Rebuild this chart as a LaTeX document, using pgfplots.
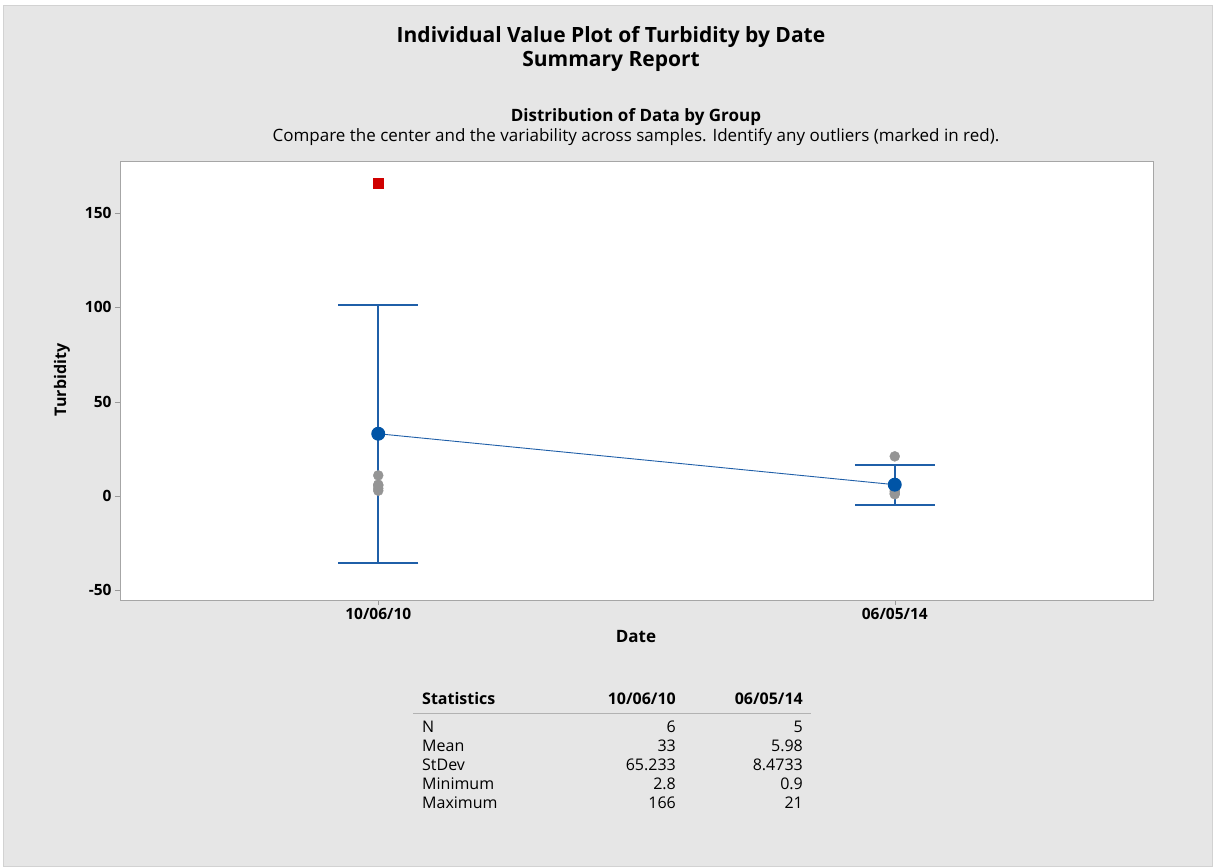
\documentclass[border=0pt]{standalone}
\usepackage{pgfplots}
\pgfplotsset{compat=1.18}
\usepackage{fontspec}
\setmainfont{Open Sans}
\definecolor{bg}{HTML}{E6E6E6}
\definecolor{barblue}{HTML}{1F5FA8}
\definecolor{meanblue}{HTML}{0054A6}
\definecolor{dotgray}{HTML}{959595}
\definecolor{outred}{HTML}{D00000}

% individual values (x: 0 = 10/06/10, 1 = 06/05/14)
\pgfplotstableread{
x y
0 2.8
0 4.0
0 5.5
0 6.0
0 10.9
1 0.9
1 1.5
1 2.5
1 4.0
1 21
}\points
% group means with 95% CI half widths
\pgfplotstableread{
x mean ci
0 33 68.46
1 5.98 10.52
}\means

\begin{document}
\begin{tikzpicture}[x=1pt,y=1pt]
% everything outside the axis is placed in image coordinates, shifted so the axis corner is the origin
\begin{scope}[shift={(-120pt,-265pt)}]
\fill[white] (0,0) rectangle (1215,865);
\filldraw[fill=bg,draw=gray!35] (3,-1) rectangle (1212,860);
\end{scope}

\begin{axis}[
    at={(0,0)}, anchor=south west,
    width=1033pt, height=439pt, scale only axis,
    xmin=-0.5, xmax=1.5, ymin=-55.2, ymax=177.7,
    xtick={0,1}, xticklabels={10/06/10,06/05/14},
    ytick={-50,0,...,150},
    tick align=outside, major tick length=5pt,
    xtick pos=bottom, ytick pos=left,
    tick style={gray!80},
    axis line style={draw=gray!70},
    axis background/.style={fill=white},
    ticklabel style={font=\fontsize{15.5}{18}\selectfont\bfseries},
    /pgf/number format/assume math mode=true,
    clip=false,
]
% confidence intervals
\addplot[draw=none, mark=none,
    error bars/.cd, y dir=both, y explicit,
    error bar style={line width=2pt, barblue},
    error mark options={rotate=90, mark size=40pt, line width=2pt, barblue}]
    table[x=x, y=mean, y error=ci] {\means};
% individual values
\addplot[only marks, mark=*, mark size=5pt, dotgray, draw=none]
    table[x=x, y=y] {\points};
% outlier
\addplot[only marks, mark=square*, mark size=5pt, outred]
    coordinates {(0,166)};
% means
\addplot[barblue, line width=0.9pt, mark=*, mark size=6.5pt,
    mark options={fill=meanblue, draw=meanblue}]
    table[x=x, y=mean] {\means};
\end{axis}

\begin{scope}[shift={(-120pt,-265pt)}]
% titles
\node[font=\fontsize{21}{24}\selectfont\bfseries] at (611,828) {Individual Value Plot of Turbidity by Date};
\node[font=\fontsize{21}{24}\selectfont\bfseries] at (611,804) {Summary Report};
\node[font=\fontsize{17}{20}\selectfont\bfseries] at (636,748) {Distribution of Data by Group};
\node[font=\fontsize{17}{20}\selectfont] at (636,728) {Compare the center and the variability across samples. Identify any outliers (marked in red).};
\node[font=\fontsize{17}{20}\selectfont\bfseries] at (636,228) {Date};
\node[font=\fontsize{16}{19}\selectfont\bfseries, rotate=90] at (62,485) {Turbidity};

% statistics table
\begin{scope}[every node/.style={font=\fontsize{16}{19}\selectfont, inner sep=0pt}]
\node[anchor=west, font=\fontsize{16}{19}\selectfont\bfseries] at (422,166) {Statistics};
\node[anchor=east, font=\fontsize{16}{19}\selectfont\bfseries] at (676,166) {10/06/10};
\node[anchor=east, font=\fontsize{16}{19}\selectfont\bfseries] at (803,166) {06/05/14};
\draw[gray!60, line width=1pt] (413,151) -- (811,151);
\foreach \lab/\a/\b [count=\i] in {N/6/5, Mean/33/5.98, StDev/65.233/8.4733, Minimum/2.8/0.9, Maximum/166/21} {
  \pgfmathsetmacro{\yy}{157-19*\i}
  \node[anchor=west] at (422,\yy) {\lab};
  \node[anchor=east] at (676,\yy) {\a};
  \node[anchor=east] at (803,\yy) {\b};
}
\end{scope}
\end{scope}
\end{tikzpicture}
\end{document}
